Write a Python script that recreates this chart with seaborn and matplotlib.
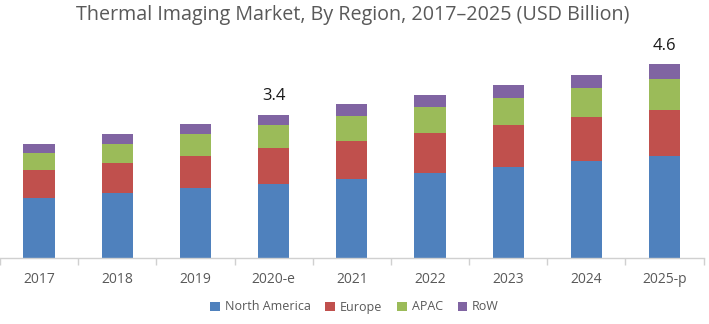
import numpy as np
import pandas as pd
import matplotlib
matplotlib.use("Agg")
import matplotlib.pyplot as plt
from matplotlib.patches import Patch
import seaborn as sns

years = ["2017", "2018", "2019", "2020-e", "2021", "2022", "2023", "2024", "2025-p"]
north_america = [1.41, 1.53, 1.65, 1.76, 1.88, 2.01, 2.15, 2.30, 2.42]
europe = [0.67, 0.72, 0.78, 0.84, 0.90, 0.95, 1.01, 1.04, 1.10]
apac = [0.42, 0.45, 0.51, 0.55, 0.60, 0.62, 0.65, 0.69, 0.74]
row = [0.21, 0.24, 0.24, 0.25, 0.27, 0.29, 0.29, 0.33, 0.34]
regions = ["North America", "Europe", "APAC", "RoW"]
colors = ["#4F81BD", "#C0504D", "#9BBB59", "#8064A2"]
callouts = {"2020-e": "3.4", "2025-p": "4.6"}

df = pd.DataFrame({"Year": years, "North America": north_america,
                   "Europe": europe, "APAC": apac, "RoW": row})

sns.set_theme(style="white")
plt.rcParams["font.family"] = ["Open Sans", "DejaVu Sans"]
text_grey = "#595959"

fig = plt.figure(figsize=(7.09, 3.24), dpi=100)
ax = fig.add_axes([0.0, 1 - 257.7 / 324, 0.9924, (257.7 - 40) / 324])

bottom = np.zeros(len(years))
for name, col in zip(regions, colors):
    vals = df[name].to_numpy()
    sns.barplot(x=df["Year"], y=vals, bottom=bottom, color=col, width=0.4,
                saturation=1, ax=ax, linewidth=0)
    bottom = bottom + vals

totals = bottom
for i, y in enumerate(years):
    if y in callouts:
        ax.text(i, totals[i] + 0.44, callouts[y], ha="center", va="center",
                fontsize=12, color="#1A1A1A")

ax.set_xlim(-0.5, len(years) - 0.5)
ax.set_ylim(0, (257.7 - 40) / 42)
ax.set_yticks([])
ax.set_xlabel("")
ax.set_ylabel("")
for s in ["top", "right", "left"]:
    ax.spines[s].set_visible(False)
ax.spines["bottom"].set_color("#D0D0D0")
ax.spines["bottom"].set_linewidth(1)

ax.set_xticks(range(len(years)))
ax.set_xticklabels(years, fontsize=10, color=text_grey)
ax.tick_params(axis="x", which="major", length=0, pad=10)
ax.set_xticks(np.arange(-0.5, len(years), 1.0), minor=True)
ax.tick_params(axis="x", which="minor", length=5, width=1, color="#D0D0D0",
               direction="out", bottom=True)

fig.text(0.497, 1 - 15 / 324, "Thermal Imaging Market, By Region, 2017\u20132025 (USD Billion)",
         ha="center", va="center", fontsize=14.2, color=text_grey)

handles = [Patch(facecolor=c, edgecolor="none", label=r) for r, c in zip(regions, colors)]
fig.legend(handles=handles, loc="center", bbox_to_anchor=(0.5, 1 - 307 / 324),
           ncol=4, frameon=False, fontsize=9, handlelength=0.75, handleheight=0.75,
           handletextpad=0.4, columnspacing=1.2, labelcolor=text_grey)

fig.savefig("out.png", dpi=100)
